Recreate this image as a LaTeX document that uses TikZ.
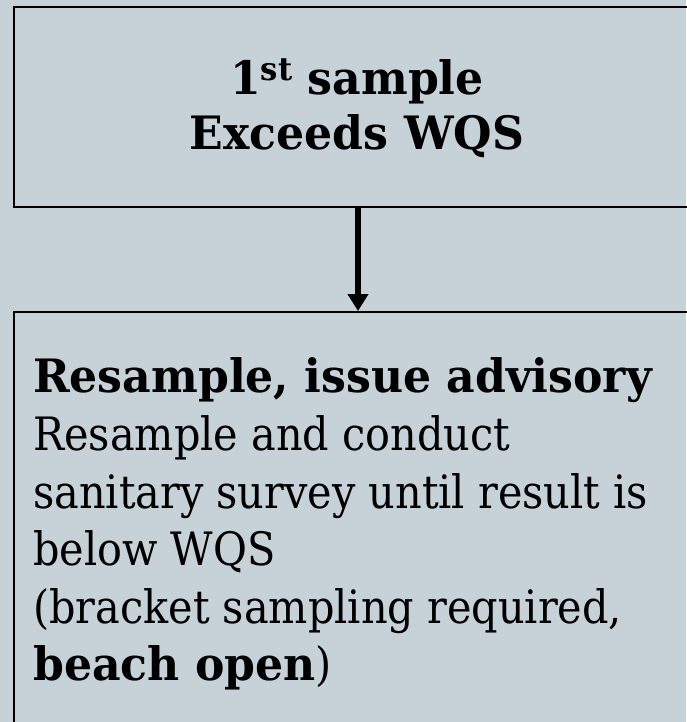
\documentclass[tikz,border=0pt]{standalone}
\usepackage{fontspec}
\setmainfont[FakeStretch=0.9, BoldFeatures={FakeStretch=0.96}]{DejaVu Serif}
\usetikzlibrary{arrows.meta}
\definecolor{bg}{RGB}{198,209,216}
\tikzset{
  boxline/.style={draw=black, line width=2pt},
  linetext/.style={anchor=base west, inner sep=0pt, font=\fontsize{46}{55}\selectfont},
  toptext/.style={anchor=base, inner sep=0pt, font=\fontsize{46}{55}\selectfont\bfseries},
  flow/.style={line width=6pt, -{Triangle[width=20pt,length=17pt]}}
}
\begin{document}
\begin{tikzpicture}[x=1pt,y=-1pt]
\fill[bg] (0,0) rectangle (686,722);
\useasboundingbox (0,0) rectangle (686,722);
\node[boxline, anchor=north west, minimum width=688pt, minimum height=199.5pt, inner sep=0pt] (topbox) at (13,6.5) {};
\node[boxline, anchor=north west, minimum width=688pt, minimum height=430pt, inner sep=0pt] (botbox) at (13,311) {};
\node[toptext] (t1) at (357,95) {1{\fontsize{32}{32}\selectfont\raisebox{14pt}{st}} sample};
\node[toptext] (t2) at (357,150) {Exceeds WQS};
\node[linetext] (l1) at (33,392) {\bfseries Resample, issue advisory};
\node[linetext] (l2) at (33,450) {Resample and conduct};
\node[linetext] (l3) at (33,508) {sanitary survey until result is};
\node[linetext] (l4) at (33,565) {below WQS};
\node[linetext] (l5) at (33,623) {(bracket sampling required,};
\node[linetext] (l6) at (33,680) {\textbf{beach open})};
\draw[flow] (topbox.south) -- (botbox.north);
\end{tikzpicture}
\end{document}
